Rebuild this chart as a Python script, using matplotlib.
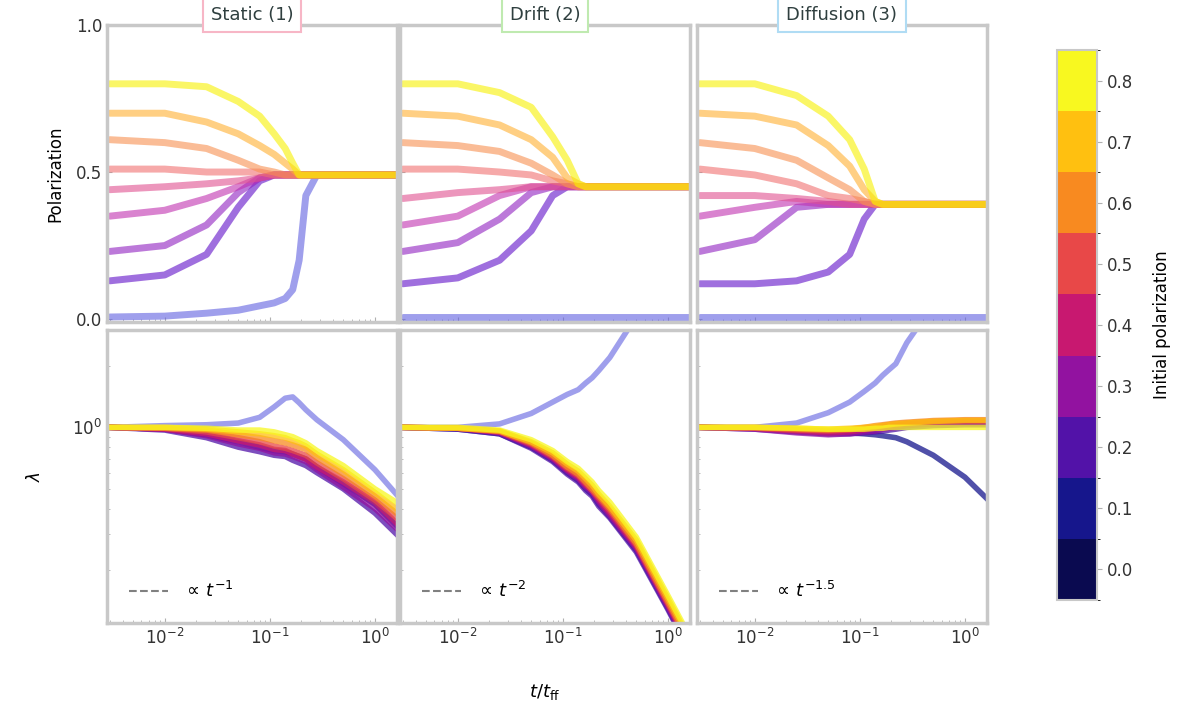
import matplotlib
matplotlib.use("Agg")
import matplotlib.pyplot as plt
from matplotlib.colors import ListedColormap, BoundaryNorm
from matplotlib.cm import ScalarMappable
from matplotlib.lines import Line2D
from matplotlib.ticker import NullFormatter, FixedLocator

plt.rcParams.update({'font.size': 12})

# initial values (colour bins) and common x sampling
init_vals = [0.0, 0.1, 0.2, 0.3, 0.4, 0.5, 0.6, 0.7, 0.8]
bin_colors = ['#0a0a50', '#16168c', '#5212a8', '#9212a0', '#c81870',
              '#e84848', '#f88a20', '#ffc010', '#f8f820']
# lighter line colours used in the top row
line_colors = ['#6060e0', '#6010c8', '#9020c0', '#c030b0', '#e05090',
               '#f07070', '#f89050', '#ffb030', '#f8f000']
x = [0.003, 0.01, 0.025, 0.05, 0.08, 0.11, 0.14, 0.165, 0.19, 0.22, 0.28, 0.5, 1.0, 1.6]

titles = ['Static (1)', 'Drift (2)', 'Diffusion (3)']
title_edges = ['#f7b6c6', '#bfeab0', '#b0dcf4']
fit_labels = [r'$\propto\, t^{-1}$', r'$\propto\, t^{-2}$', r'$\propto\, t^{-1.5}$']

# top row: polarization, one list per initial value (0.0 ... 0.8)
top_1 = [
    [0.007, 0.01, 0.02, 0.03, 0.045, 0.055, 0.07, 0.10, 0.20, 0.42, 0.49, 0.49, 0.49, 0.49],
    [0.13, 0.15, 0.22, 0.38, 0.47, 0.49, 0.49, 0.49, 0.49, 0.49, 0.49, 0.49, 0.49, 0.49],
    [0.23, 0.25, 0.32, 0.43, 0.48, 0.49, 0.49, 0.49, 0.49, 0.49, 0.49, 0.49, 0.49, 0.49],
    [0.35, 0.37, 0.41, 0.45, 0.48, 0.49, 0.49, 0.49, 0.49, 0.49, 0.49, 0.49, 0.49, 0.49],
    [0.44, 0.45, 0.46, 0.47, 0.48, 0.49, 0.49, 0.49, 0.49, 0.49, 0.49, 0.49, 0.49, 0.49],
    [0.51, 0.51, 0.50, 0.50, 0.50, 0.49, 0.49, 0.49, 0.49, 0.49, 0.49, 0.49, 0.49, 0.49],
    [0.61, 0.60, 0.58, 0.54, 0.51, 0.50, 0.49, 0.49, 0.49, 0.49, 0.49, 0.49, 0.49, 0.49],
    [0.70, 0.70, 0.67, 0.63, 0.59, 0.56, 0.53, 0.51, 0.49, 0.49, 0.49, 0.49, 0.49, 0.49],
    [0.80, 0.80, 0.79, 0.74, 0.69, 0.63, 0.58, 0.53, 0.49, 0.49, 0.49, 0.49, 0.49, 0.49],
]
top_2 = [
    [0.007, 0.007, 0.007, 0.007, 0.007, 0.007, 0.007, 0.007, 0.007, 0.007, 0.007, 0.007, 0.007, 0.007],
    [0.12, 0.14, 0.20, 0.30, 0.42, 0.45, 0.45, 0.45, 0.45, 0.45, 0.45, 0.45, 0.45, 0.45],
    [0.23, 0.26, 0.34, 0.43, 0.45, 0.45, 0.45, 0.45, 0.45, 0.45, 0.45, 0.45, 0.45, 0.45],
    [0.32, 0.35, 0.42, 0.45, 0.45, 0.45, 0.45, 0.45, 0.45, 0.45, 0.45, 0.45, 0.45, 0.45],
    [0.41, 0.43, 0.44, 0.45, 0.45, 0.45, 0.45, 0.45, 0.45, 0.45, 0.45, 0.45, 0.45, 0.45],
    [0.51, 0.51, 0.50, 0.49, 0.47, 0.46, 0.45, 0.45, 0.45, 0.45, 0.45, 0.45, 0.45, 0.45],
    [0.60, 0.59, 0.57, 0.53, 0.49, 0.46, 0.45, 0.45, 0.45, 0.45, 0.45, 0.45, 0.45, 0.45],
    [0.70, 0.69, 0.66, 0.61, 0.55, 0.48, 0.46, 0.45, 0.45, 0.45, 0.45, 0.45, 0.45, 0.45],
    [0.80, 0.80, 0.77, 0.72, 0.62, 0.54, 0.46, 0.45, 0.45, 0.45, 0.45, 0.45, 0.45, 0.45],
]
top_3 = [
    [0.007, 0.007, 0.007, 0.007, 0.007, 0.007, 0.007, 0.007, 0.007, 0.007, 0.007, 0.007, 0.007, 0.007],
    [0.12, 0.12, 0.13, 0.16, 0.22, 0.34, 0.39, 0.39, 0.39, 0.39, 0.39, 0.39, 0.39, 0.39],
    [0.23, 0.27, 0.38, 0.39, 0.39, 0.39, 0.39, 0.39, 0.39, 0.39, 0.39, 0.39, 0.39, 0.39],
    [0.35, 0.38, 0.40, 0.39, 0.39, 0.39, 0.39, 0.39, 0.39, 0.39, 0.39, 0.39, 0.39, 0.39],
    [0.42, 0.42, 0.41, 0.40, 0.39, 0.39, 0.39, 0.39, 0.39, 0.39, 0.39, 0.39, 0.39, 0.39],
    [0.51, 0.49, 0.46, 0.42, 0.41, 0.40, 0.39, 0.39, 0.39, 0.39, 0.39, 0.39, 0.39, 0.39],
    [0.60, 0.58, 0.54, 0.48, 0.44, 0.40, 0.39, 0.39, 0.39, 0.39, 0.39, 0.39, 0.39, 0.39],
    [0.70, 0.69, 0.66, 0.59, 0.52, 0.44, 0.40, 0.39, 0.39, 0.39, 0.39, 0.39, 0.39, 0.39],
    [0.80, 0.80, 0.76, 0.69, 0.61, 0.51, 0.40, 0.39, 0.39, 0.39, 0.39, 0.39, 0.39, 0.39],
]

# bottom row: lambda (log scale)
bot_1 = [
    [1.00, 1.02, 1.03, 1.05, 1.12, 1.26, 1.39, 1.41, 1.32, 1.22, 1.09, 0.87, 0.62, 0.47],
    [1.00, 0.98, 0.92, 0.85, 0.80, 0.77, 0.76, 0.74, 0.72, 0.70, 0.64, 0.53, 0.42, 0.33],
    [1.00, 0.97, 0.89, 0.80, 0.76, 0.73, 0.72, 0.69, 0.67, 0.65, 0.60, 0.50, 0.38, 0.30],
    [1.00, 0.98, 0.91, 0.83, 0.79, 0.75, 0.74, 0.72, 0.70, 0.68, 0.62, 0.51, 0.40, 0.32],
    [1.00, 0.98, 0.93, 0.86, 0.82, 0.78, 0.77, 0.74, 0.72, 0.70, 0.64, 0.54, 0.43, 0.34],
    [1.00, 0.99, 0.95, 0.89, 0.85, 0.81, 0.79, 0.77, 0.75, 0.73, 0.67, 0.56, 0.44, 0.36],
    [1.00, 0.99, 0.97, 0.92, 0.89, 0.86, 0.84, 0.82, 0.80, 0.78, 0.71, 0.59, 0.46, 0.38],
    [1.00, 1.00, 0.98, 0.95, 0.93, 0.91, 0.89, 0.86, 0.84, 0.81, 0.74, 0.62, 0.48, 0.40],
    [1.00, 1.00, 0.99, 0.97, 0.97, 0.95, 0.92, 0.90, 0.87, 0.84, 0.77, 0.65, 0.50, 0.43],
]
bot_2 = [
    [1.00, 1.00, 1.04, 1.17, 1.33, 1.45, 1.53, 1.65, 1.75, 1.90, 2.20, 3.50, 5.00, 6.00],
    [1.00, 0.98, 0.93, 0.80, 0.69, 0.60, 0.55, 0.50, 0.47, 0.42, 0.365, 0.25, 0.130, 0.082],
    [1.00, 0.98, 0.93, 0.79, 0.68, 0.59, 0.54, 0.49, 0.46, 0.41, 0.36, 0.245, 0.128, 0.080],
    [1.00, 0.99, 0.94, 0.81, 0.70, 0.61, 0.56, 0.51, 0.48, 0.43, 0.37, 0.255, 0.132, 0.083],
    [1.00, 0.99, 0.95, 0.82, 0.71, 0.62, 0.57, 0.52, 0.49, 0.44, 0.38, 0.26, 0.135, 0.085],
    [1.00, 0.99, 0.95, 0.83, 0.72, 0.63, 0.58, 0.53, 0.49, 0.45, 0.39, 0.265, 0.137, 0.087],
    [1.00, 0.99, 0.96, 0.84, 0.73, 0.64, 0.59, 0.54, 0.50, 0.46, 0.40, 0.27, 0.140, 0.089],
    [1.00, 0.99, 0.96, 0.85, 0.75, 0.66, 0.61, 0.56, 0.52, 0.47, 0.41, 0.28, 0.145, 0.092],
    [1.00, 1.00, 0.97, 0.87, 0.77, 0.68, 0.63, 0.58, 0.54, 0.49, 0.43, 0.29, 0.150, 0.095],
]
bot_3 = [
    [1.00, 1.00, 1.05, 1.18, 1.33, 1.50, 1.65, 1.80, 1.92, 2.05, 2.60, 4.00, 5.00, 6.00],
    [1.00, 0.99, 0.97, 0.95, 0.94, 0.93, 0.92, 0.91, 0.90, 0.89, 0.85, 0.73, 0.57, 0.45],
    [1.00, 0.98, 0.95, 0.93, 0.93, 0.94, 0.95, 0.96, 0.97, 0.98, 1.00, 1.02, 1.03, 1.03],
    [1.00, 0.98, 0.94, 0.92, 0.93, 0.95, 0.96, 0.98, 0.99, 1.00, 1.02, 1.04, 1.05, 1.05],
    [1.00, 0.99, 0.96, 0.94, 0.95, 0.97, 0.99, 1.00, 1.01, 1.02, 1.04, 1.06, 1.07, 1.07],
    [1.00, 0.99, 0.97, 0.96, 0.97, 0.99, 1.00, 1.02, 1.03, 1.04, 1.05, 1.07, 1.08, 1.08],
    [1.00, 1.00, 0.98, 0.97, 0.98, 1.00, 1.02, 1.03, 1.04, 1.05, 1.06, 1.08, 1.09, 1.09],
    [1.00, 1.00, 0.99, 0.98, 0.99, 1.00, 1.01, 1.02, 1.03, 1.04, 1.05, 1.07, 1.08, 1.08],
    [1.00, 1.00, 0.99, 0.98, 0.98, 0.98, 0.99, 0.99, 1.00, 1.00, 1.00, 1.00, 1.00, 1.00],
]

tops = [top_1, top_2, top_3]
bots = [bot_1, bot_2, bot_3]

W, H = 1200, 720
fig = plt.figure(figsize=(12, 7.2), dpi=100)

panel_left = [107, 400, 697]
pw = 290
spine_c = '#c8c8c8'


def style(ax):
    for s in ax.spines.values():
        s.set_color(spine_c)
        s.set_linewidth(2.5)
    ax.tick_params(which='both', direction='in', color='#b0b0b0', labelcolor='#333333')


for i in range(3):
    axt = fig.add_axes([panel_left[i] / W, 1 - 322 / H, pw / W, 297 / H])
    axb = fig.add_axes([panel_left[i] / W, 1 - 623 / H, pw / W, 293 / H])
    for k, v in enumerate(init_vals):
        axt.plot(x, tops[i][k], color=line_colors[k], alpha=0.6, lw=5,
                 solid_capstyle='round', solid_joinstyle='round')
    for k, v in enumerate(init_vals):
        if k == 0:
            axb.plot(x, bots[i][k], color=line_colors[0], alpha=0.6, lw=4,
                     solid_joinstyle='round')
        else:
            axb.plot(x, bots[i][k], color=bin_colors[k], alpha=0.75, lw=4,
                     solid_joinstyle='round')

    for ax in (axt, axb):
        ax.set_xscale('log')
        ax.set_xlim(10 ** -2.55, 10 ** 0.21)
        style(ax)
    axt.set_ylim(-0.01, 1.0)
    axt.set_xticklabels([])
    axt.set_yticks([0.0, 0.5, 1.0])
    axb.set_yscale('log')
    axb.set_ylim(0.11, 3.0)
    axb.yaxis.set_major_locator(FixedLocator([0.1, 1.0]))
    axb.yaxis.set_minor_formatter(NullFormatter())
    axb.set_xticks([0.01, 0.1, 1.0])
    if i > 0:
        axt.set_yticklabels([])
        axb.set_yticklabels([])
    else:
        axt.set_ylabel('Polarization', labelpad=8)
        axb.set_ylabel(r'$\lambda$', labelpad=20)

    axt.text(0.5, 1.035, titles[i], transform=axt.transAxes, ha='center', va='center',
             fontsize=13, color='#2f3f3f',
             bbox=dict(boxstyle='square,pad=0.45', fc='white', ec=title_edges[i], lw=1.5))

    h = Line2D([], [], color='gray', ls='--', lw=1.5)
    axb.legend([h], [fit_labels[i]], loc='lower left', frameon=False, fontsize=13,
               handlelength=2.2, borderaxespad=0.8)

fig.text(545 / W, 1 - 692 / H, r'$t/t_{\rm ff}$', ha='center', va='center', fontsize=13)

# colour bar
cmap = ListedColormap(bin_colors)
bounds = [-0.05, 0.05, 0.15, 0.25, 0.35, 0.45, 0.55, 0.65, 0.75, 0.85]
norm = BoundaryNorm(bounds, cmap.N)
cax = fig.add_axes([1057 / W, 1 - 600 / H, 40 / W, 550 / H])
cb = fig.colorbar(ScalarMappable(norm=norm, cmap=cmap), cax=cax, ticks=init_vals)
cb.ax.set_yticklabels(['%.1f' % v for v in init_vals])
cb.outline.set_edgecolor(spine_c)
cb.outline.set_linewidth(1.5)
cb.ax.tick_params(color='#b0b0b0', labelcolor='#333333')
cb.set_label('Initial polarization', labelpad=14)

plt.savefig('out.png', dpi=100)
